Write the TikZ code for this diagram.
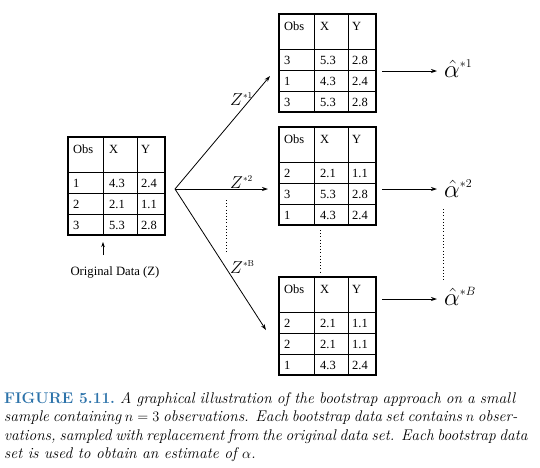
\documentclass[tikz,border=0pt]{standalone}
\usepackage{fontspec}
\newfontfamily\tabfont{Liberation Serif}
\usetikzlibrary{arrows.meta,calc}
\definecolor{figblue}{RGB}{45,115,170}
\tikzset{
  tabframe/.style={draw, line width=1.6pt, minimum width=97pt, minimum height=98pt, inner sep=0pt, outer sep=0pt},
  tabline/.style={line width=0.9pt},
  cell/.style={font=\tabfont\fontsize{12.5}{14}\selectfont, inner sep=0pt, anchor=base west},
  arr/.style={line width=0.8pt, -{Stealth[length=6pt,width=4pt]}},
  dots/.style={line width=1pt, dash pattern=on 1pt off 2.2pt},
  zlab/.style={font=\fontsize{17.5}{20}\selectfont, inner sep=0pt, anchor=base west},
  alab/.style={font=\fontsize{23}{26}\selectfont, inner sep=0pt, anchor=base west},
  capline/.style={font=\fontsize{15.5}{18.5}\selectfont\itshape, inner sep=0pt, anchor=base west}
}
\newcommand{\bstab}[4]{%
  \node[tabframe, anchor=north west] (#1) at (#2,#3) {};
  \draw[tabline] ([yshift=-35pt]#1.north west) -- ([yshift=-35pt]#1.north east);
  \draw[tabline] ([yshift=-56pt]#1.north west) -- ([yshift=-56pt]#1.north east);
  \draw[tabline] ([yshift=-77pt]#1.north west) -- ([yshift=-77pt]#1.north east);
  \draw[tabline] ([xshift=35pt]#1.north west) -- ([xshift=35pt]#1.south west);
  \draw[tabline] ([xshift=69pt]#1.north west) -- ([xshift=69pt]#1.south west);
  \node[cell] (#1-h1) at ([xshift=5pt,yshift=-16pt]#1.north west) {Obs};
  \node[cell] (#1-h2) at ([xshift=41pt,yshift=-16pt]#1.north west) {X};
  \node[cell] (#1-h3) at ([xshift=73pt,yshift=-16pt]#1.north west) {Y};
  \foreach \a/\b/\c [count=\i] in {#4} {
    \node[cell] (#1-r\i a) at ([xshift=5pt,yshift={-29pt-21pt*\i}]#1.north west) {\a};
    \node[cell] (#1-r\i b) at ([xshift=41pt,yshift={-29pt-21pt*\i}]#1.north west) {\b};
    \node[cell] (#1-r\i c) at ([xshift=73pt,yshift={-29pt-21pt*\i}]#1.north west) {\c};
  }
}
\begin{document}
\begin{tikzpicture}[x=1pt,y=-1pt]
\useasboundingbox (0,0) rectangle (540,467);
% tables
\bstab{orig}{68}{137}{1/4.3/2.4, 2/2.1/1.1, 3/5.3/2.8}
\bstab{t1}{279}{14}{3/5.3/2.8, 1/4.3/2.4, 3/5.3/2.8}
\bstab{t2}{279}{127}{2/2.1/1.1, 3/5.3/2.8, 1/4.3/2.4}
\bstab{tB}{279}{277}{2/2.1/1.1, 2/2.1/1.1, 1/4.3/2.4}
% original data label
\coordinate (up0) at (103,255);
\coordinate (up1) at (103,242);
\draw[line width=0.8pt, -{Stealth[length=5pt,width=3.5pt]}] (up0) -- (up1);
\node[font=\tabfont\fontsize{12.7}{14}\selectfont, inner sep=0pt] (origlab) at (115,272) {Original Data (Z)};
% fan
\coordinate (fan) at (175,189);
\coordinate (e1) at (270,76);
\coordinate (e2) at (268,189);
\coordinate (eB) at (266,330);
\draw[arr] (fan) -- (e1);
\draw[arr] (fan) -- (e2);
\draw[arr] (fan) -- (eB);
\node[zlab] (z1) at (230,105) {$Z^{\scriptscriptstyle *1}$};
\node[zlab] (z2) at (230,188) {$Z^{\scriptscriptstyle *2}$};
\node[zlab] (zB) at (230,273) {$Z^{\scriptscriptstyle *\mathrm{B}}$};
% dotted lines
\coordinate (d1a) at (226,200); \coordinate (d1b) at (226,253);
\coordinate (d2a) at (320,230); \coordinate (d2b) at (320,272);
\coordinate (d3a) at (443,209); \coordinate (d3b) at (443,282);
\draw[dots] (d1a) -- (d1b);
\draw[dots] (d2a) -- (d2b);
\draw[dots] (d3a) -- (d3b);
% estimates
\node[alab] (a1) at (444,77) {$\hat{\alpha}^{\scriptscriptstyle *1}$};
\node[alab] (a2) at (444,197) {$\hat{\alpha}^{\scriptscriptstyle *2}$};
\node[alab] (aB) at (444,305) {$\hat{\alpha}^{\scriptscriptstyle *B}$};
\coordinate (s1) at (382,71);  \coordinate (f1) at (437,71);
\coordinate (s2) at (382,189); \coordinate (f2) at (437,189);
\coordinate (sB) at (382,299); \coordinate (fB) at (437,299);
\draw[arr] (s1) -- (f1);
\draw[arr] (s2) -- (f2);
\draw[arr] (sB) -- (fB);
% caption
\node[capline] (c1) at (4,403) {\makebox[511pt][s]{\upshape\bfseries\color{figblue}FIGURE\hspace{6pt}5.11.\hspace{5pt}\itshape\mdseries\color{black}A graphical illustration of the bootstrap approach on a small}};
\node[capline] (c2) at (4,421.5) {\makebox[511pt][s]{sample containing $n=3$ observations. Each bootstrap data set contains $n$ obser-}};
\node[capline] (c3) at (4,440) {\makebox[511pt][s]{vations, sampled with replacement from the original data set. Each bootstrap data}};
\node[capline] (c4) at (4,458.5) {set is used to obtain an estimate of $\alpha$.};
\end{tikzpicture}
\end{document}
